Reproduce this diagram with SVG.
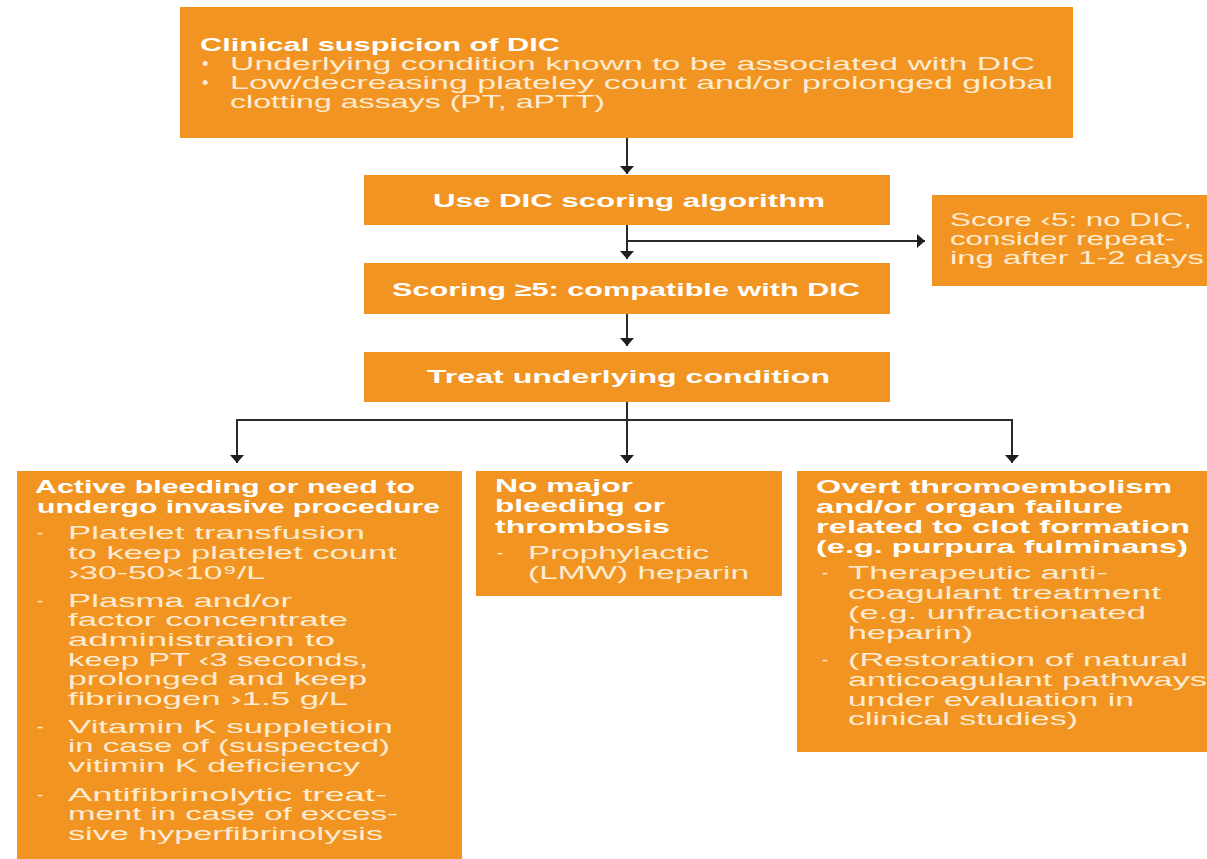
<svg xmlns="http://www.w3.org/2000/svg" width="1207" height="859" viewBox="0 0 1207 859">
<defs>
<marker id="ah" viewBox="0 0 8 14" refX="8" refY="7" markerWidth="8" markerHeight="14" markerUnits="userSpaceOnUse" orient="auto">
<path d="M0,0 L8,7 L0,14 z" fill="#1f1f1f"/>
</marker>
</defs>
<style>
.box{fill:#F29421;}
text{font-family:"Liberation Sans",Arial,sans-serif;font-size:18.5px;}
.h{font-weight:bold;fill:#FFFFFF;}
.t{fill:#FDEBD2;}
.c{stroke:#2a2a2a;stroke-width:2;fill:none;}
.a{marker-end:url(#ah);}
</style>
<rect width="1207" height="859" fill="#ffffff"/>

<g id="connectors">
<line class="c a" x1="627" y1="138" x2="627" y2="174"/>
<line class="c a" x1="627" y1="225" x2="627" y2="259"/>
<line class="c a" x1="627" y1="241" x2="925" y2="241"/>
<line class="c a" x1="627" y1="314" x2="627" y2="346"/>
<line class="c" x1="627" y1="402" x2="627" y2="420"/>
<line class="c" x1="236" y1="420" x2="1013" y2="420"/>
<line class="c a" x1="237" y1="420" x2="237" y2="463"/>
<line class="c a" x1="627" y1="420" x2="627" y2="463"/>
<line class="c a" x1="1012" y1="420" x2="1012" y2="463"/>
</g>

<g id="n-suspicion">
<rect class="box" x="180" y="7" width="893" height="131"/>
<text class="h" x="200" y="51" textLength="360" lengthAdjust="spacingAndGlyphs">Clinical suspicion of DIC</text>
<text class="t" x="202" y="70">•</text>
<text class="t" x="230" y="70" textLength="805" lengthAdjust="spacingAndGlyphs">Underlying condition known to be associated with DIC</text>
<text class="t" x="202" y="89">•</text>
<text class="t" x="230" y="89" textLength="823" lengthAdjust="spacingAndGlyphs">Low/decreasing plateley count and/or prolonged global</text>
<text class="t" x="230" y="108" textLength="375" lengthAdjust="spacingAndGlyphs">clotting assays (PT, aPTT)</text>
</g>

<g id="n-scoring">
<rect class="box" x="364" y="175" width="526" height="50"/>
<text class="h" x="433" y="207" textLength="392" lengthAdjust="spacingAndGlyphs">Use DIC scoring algorithm</text>
</g>

<g id="n-nodic">
<rect class="box" x="932" y="195" width="275" height="91"/>
<text class="t" x="950" y="226" textLength="242" lengthAdjust="spacingAndGlyphs">Score ‹5: no DIC,</text>
<text class="t" x="950" y="245" textLength="225" lengthAdjust="spacingAndGlyphs">consider repeat-</text>
<text class="t" x="950" y="264" textLength="254" lengthAdjust="spacingAndGlyphs">ing after 1-2 days</text>
</g>

<g id="n-compatible">
<rect class="box" x="364" y="263" width="526" height="51"/>
<text class="h" x="392" y="296" textLength="468" lengthAdjust="spacingAndGlyphs">Scoring ≥5: compatible with DIC</text>
</g>

<g id="n-treat">
<rect class="box" x="364" y="352" width="526" height="50"/>
<text class="h" x="427" y="383" textLength="403" lengthAdjust="spacingAndGlyphs">Treat underlying condition</text>
</g>

<g id="n-bleeding">
<rect class="box" x="17" y="471" width="445" height="395"/>
<text class="h" x="35" y="493" textLength="380" lengthAdjust="spacingAndGlyphs">Active bleeding or need to</text>
<text class="h" x="37" y="513" textLength="403" lengthAdjust="spacingAndGlyphs">undergo invasive procedure</text>
<text class="t" x="37" y="539">-</text>
<text class="t" x="68" y="539" textLength="297" lengthAdjust="spacingAndGlyphs">Platelet transfusion</text>
<text class="t" x="68" y="559" textLength="329" lengthAdjust="spacingAndGlyphs">to keep platelet count</text>
<text class="t" x="68" y="579" textLength="197" lengthAdjust="spacingAndGlyphs">›30-50×10⁹/L</text>
<text class="t" x="37" y="607">-</text>
<text class="t" x="68" y="607" textLength="224" lengthAdjust="spacingAndGlyphs">Plasma and/or</text>
<text class="t" x="68" y="626" textLength="280" lengthAdjust="spacingAndGlyphs">factor concentrate</text>
<text class="t" x="68" y="646" textLength="267" lengthAdjust="spacingAndGlyphs">administration to</text>
<text class="t" x="68" y="666" textLength="300" lengthAdjust="spacingAndGlyphs">keep PT ‹3 seconds,</text>
<text class="t" x="68" y="685" textLength="299" lengthAdjust="spacingAndGlyphs">prolonged and keep</text>
<text class="t" x="68" y="705" textLength="280" lengthAdjust="spacingAndGlyphs">fibrinogen ›1.5 g/L</text>
<text class="t" x="37" y="733">-</text>
<text class="t" x="68" y="733" textLength="325" lengthAdjust="spacingAndGlyphs">Vitamin K suppletioin</text>
<text class="t" x="68" y="752" textLength="322" lengthAdjust="spacingAndGlyphs">in case of (suspected)</text>
<text class="t" x="68" y="772" textLength="292" lengthAdjust="spacingAndGlyphs">vitimin K deficiency</text>
<text class="t" x="37" y="801">-</text>
<text class="t" x="68" y="801" textLength="319" lengthAdjust="spacingAndGlyphs">Antifibrinolytic treat-</text>
<text class="t" x="68" y="820" textLength="330" lengthAdjust="spacingAndGlyphs">ment in case of exces-</text>
<text class="t" x="68" y="840" textLength="315" lengthAdjust="spacingAndGlyphs">sive hyperfibrinolysis</text>
</g>

<g id="n-nomajor">
<rect class="box" x="476" y="471" width="306" height="125"/>
<text class="h" x="495" y="492" textLength="138" lengthAdjust="spacingAndGlyphs">No major</text>
<text class="h" x="495" y="512" textLength="170" lengthAdjust="spacingAndGlyphs">bleeding or</text>
<text class="h" x="495" y="533" textLength="175" lengthAdjust="spacingAndGlyphs">thrombosis</text>
<text class="t" x="497" y="559">-</text>
<text class="t" x="528" y="559" textLength="181" lengthAdjust="spacingAndGlyphs">Prophylactic</text>
<text class="t" x="528" y="579" textLength="221" lengthAdjust="spacingAndGlyphs">(LMW) heparin</text>
</g>

<g id="n-overt">
<rect class="box" x="797" y="471" width="410" height="281"/>
<text class="h" x="816" y="493" textLength="356" lengthAdjust="spacingAndGlyphs">Overt thromoembolism</text>
<text class="h" x="816" y="513" textLength="307" lengthAdjust="spacingAndGlyphs">and/or organ failure</text>
<text class="h" x="816" y="533" textLength="374" lengthAdjust="spacingAndGlyphs">related to clot formation</text>
<text class="h" x="816" y="553" textLength="372" lengthAdjust="spacingAndGlyphs">(e.g. purpura fulminans)</text>
<text class="t" x="822" y="579">-</text>
<text class="t" x="848" y="579" textLength="260" lengthAdjust="spacingAndGlyphs">Therapeutic anti-</text>
<text class="t" x="848" y="599" textLength="313" lengthAdjust="spacingAndGlyphs">coagulant treatment</text>
<text class="t" x="848" y="619" textLength="298" lengthAdjust="spacingAndGlyphs">(e.g. unfractionated</text>
<text class="t" x="848" y="639" textLength="125" lengthAdjust="spacingAndGlyphs">heparin)</text>
<text class="t" x="822" y="666">-</text>
<text class="t" x="848" y="666" textLength="340" lengthAdjust="spacingAndGlyphs">(Restoration of natural</text>
<text class="t" x="848" y="686" textLength="359" lengthAdjust="spacingAndGlyphs">anticoagulant pathways</text>
<text class="t" x="848" y="706" textLength="286" lengthAdjust="spacingAndGlyphs">under evaluation in</text>
<text class="t" x="848" y="725" textLength="230" lengthAdjust="spacingAndGlyphs">clinical studies)</text>
</g>
</svg>
